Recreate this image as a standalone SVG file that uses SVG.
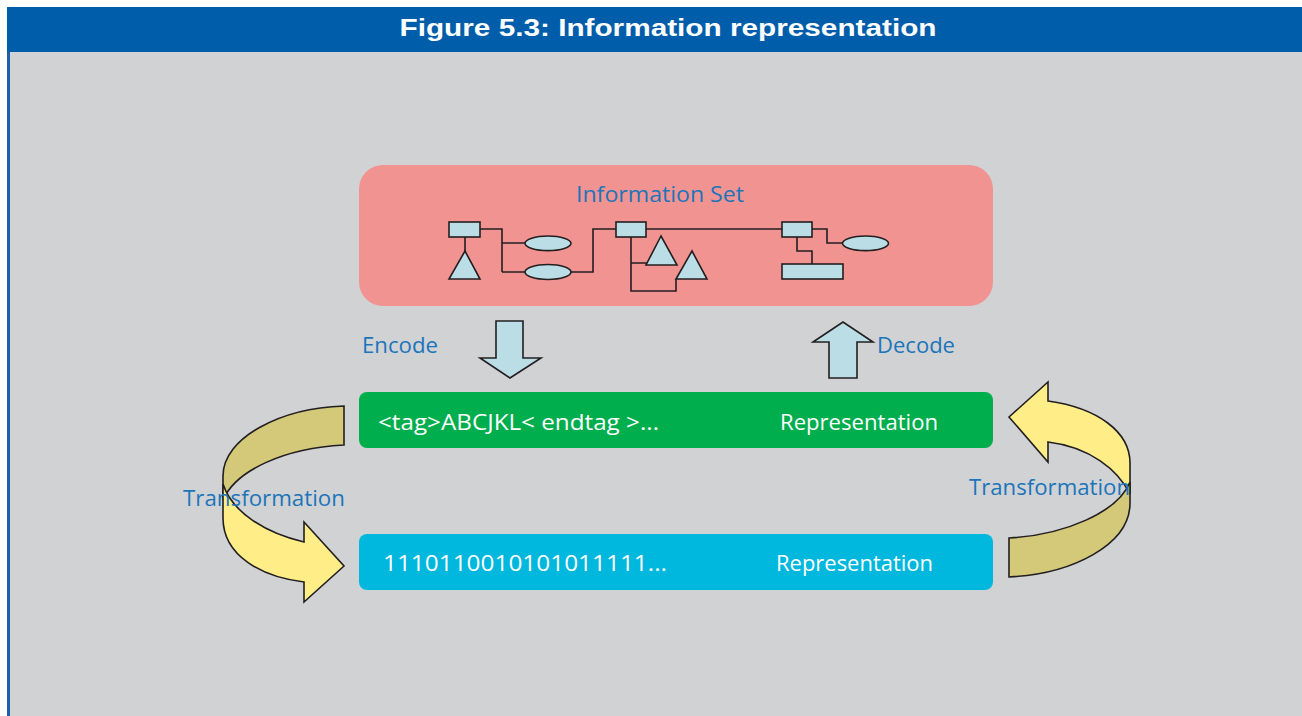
<svg xmlns="http://www.w3.org/2000/svg" width="1302" height="716" viewBox="0 0 1302 716">
<defs>
<style>
.lbl{font-family:"Open Sans","Liberation Sans",Arial,sans-serif;font-size:21px;fill:#1B75BB}
.wt{font-family:"Open Sans","Liberation Sans",Arial,sans-serif;font-size:21px;fill:#ffffff}
.ent{fill:#BBDDE6;stroke:#231F20;stroke-width:1.6}
.ln{fill:none;stroke:#231F20;stroke-width:1.6}
.blk{fill:#BBDDE6;stroke:#231F20;stroke-width:1.6;stroke-linejoin:miter}
.tf{stroke:#231F20;stroke-width:1.6;stroke-linejoin:miter}
</style>
</defs>
<rect x="0" y="0" width="1302" height="716" fill="#ffffff"/>
<rect x="7" y="52" width="1295" height="664" fill="#D1D2D4"/>
<rect x="7" y="52" width="3" height="664" fill="#1D5FA8"/>
<g id="header">
<rect x="7" y="7" width="1295" height="45" fill="#005DAA"/>
<text x="668" y="36" text-anchor="middle" font-family="'Liberation Sans',Arial,sans-serif" font-weight="bold" font-size="24" fill="#ffffff" textLength="537" lengthAdjust="spacingAndGlyphs">Figure 5.3: Information representation</text>
</g>
<g id="information-set">
<rect x="359" y="165" width="634" height="141" rx="24" fill="#F19391"/>
<text class="lbl" x="660" y="202" text-anchor="middle" textLength="168" lengthAdjust="spacingAndGlyphs">Information Set</text>
<g id="network">
<path class="ln" d="M465,237 V251 M480,229 H502 V272 M502,243 H525 M502,272 H525 M571,272 H593 V229 H616 M646,229 H782 M631,237 V291 H676 V279 M631,263 H647 M812,229 H827 V243 H843 M797,237 V251 H812 V264"/>
<rect class="ent" x="449" y="222" width="31" height="15"/>
<polygon class="ent" points="465,251 449,279 480,279"/>
<ellipse class="ent" cx="548" cy="243.3" rx="23" ry="7.3"/>
<ellipse class="ent" cx="548" cy="272" rx="23" ry="7.5"/>
<rect class="ent" x="616" y="222" width="30" height="15"/>
<polygon class="ent" points="661,236 646,265 677,265"/>
<polygon class="ent" points="692,251 676,279 707,279"/>
<rect class="ent" x="782" y="222" width="30" height="15"/>
<ellipse class="ent" cx="865.5" cy="243.3" rx="23" ry="7.3"/>
<rect class="ent" x="782" y="264" width="61" height="15"/>
</g>
</g>
<g id="text-representation">
<rect x="359" y="392" width="634" height="56" rx="8" fill="#00AE4D"/>
<text class="wt" x="378" y="430" textLength="281" lengthAdjust="spacingAndGlyphs">&lt;tag&gt;ABCJKL&lt; endtag &gt;...</text>
<text class="wt" x="780" y="430" textLength="158" lengthAdjust="spacingAndGlyphs">Representation</text>
</g>
<g id="binary-representation">
<rect x="359" y="534" width="634" height="56" rx="8" fill="#00B7DE"/>
<text class="wt" x="383" y="571" textLength="284" lengthAdjust="spacingAndGlyphs">1110110010101011111...</text>
<text class="wt" x="776" y="571" textLength="157" lengthAdjust="spacingAndGlyphs">Representation</text>
</g>
<g id="connectors">
<g id="encode">
<polygon class="blk" points="496,321 523,321 523,358 541,358 510,378 480,358 496,358"/>
<text class="lbl" x="362" y="353" textLength="76" lengthAdjust="spacingAndGlyphs">Encode</text>
</g>
<g id="decode">
<polygon class="blk" points="829,378 857,378 857,342 873,342 843,322 813,342 829,342"/>
<text class="lbl" x="877" y="353" textLength="78" lengthAdjust="spacingAndGlyphs">Decode</text>
</g>
<g id="transform-down">
<path class="tf" fill="#D3C979" d="M344,406 C280,408 223,438 223,476 L223,500 C236,470 285,448 344,445 Z"/>
<path class="tf" fill="#FFEE88" d="M223,484 L223,518 C223,556 262,577 304,582 L304,602 L344,566 L304,522 L304,542 C265,533 232,512 223,484 Z"/>
<text class="lbl" x="183" y="506" textLength="162" lengthAdjust="spacingAndGlyphs">Transformation</text>
</g>
<g id="transform-up">
<path class="tf" fill="#FFEE88" d="M1130,463 L1130,494 C1118,470 1090,447 1048,442 L1048,462 L1009,417 L1048,382 L1048,401 C1098,408 1130,432 1130,463 Z"/>
<path class="tf" fill="#D3C979" d="M1009,538 C1065,535 1118,512 1130,482 L1130,503 C1130,545 1072,574 1009,577 Z"/>
<text class="lbl" x="969" y="495" textLength="161" lengthAdjust="spacingAndGlyphs">Transformation</text>
</g>
</g>
</svg>
